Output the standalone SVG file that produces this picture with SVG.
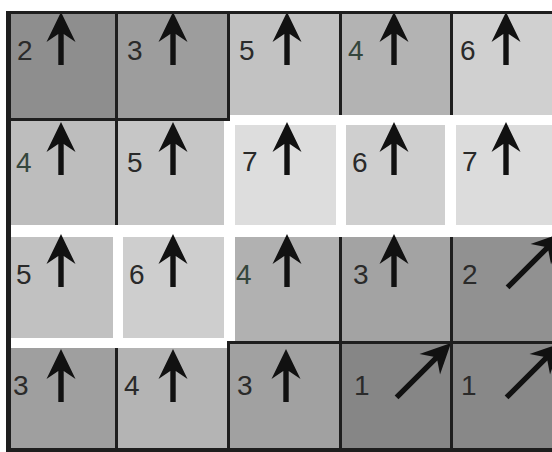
<svg xmlns="http://www.w3.org/2000/svg" xmlns:xlink="http://www.w3.org/1999/xlink" width="552" height="452" viewBox="0 0 552 452">
<style>
.n{font-family:"Liberation Sans",Arial,sans-serif;font-size:28px;fill:#2a2a2a}
.g{fill:#34463c}
.a{fill:#111}
.ln{fill:#1e1e1e}
</style>
<defs>
<path id="up" d="M0,0 L14.5,30 L2.7,22 L2.7,53 L-2.7,53 L-2.7,22 L-14.5,30 Z"/>
<path id="dg" d="M0,0 L14.5,30 L2.7,22 L2.7,77 L-2.7,77 L-2.7,22 L-14.5,30 Z"/>
</defs>
<rect width="552" height="452" fill="#fff"/>
<g id="cells">
<g id="c11"><rect x="11" y="14" width="106" height="105" fill="#8e8e8e"/><text class="n" x="17" y="60">2</text><use href="#up" class="a" transform="translate(61,12)"/></g>
<g id="c12"><rect x="117" y="14" width="112" height="105" fill="#9d9d9d"/><text class="n" x="127" y="60">3</text><use href="#up" class="a" transform="translate(173,12)"/></g>
<g id="c13"><rect x="229" y="14" width="111" height="101" fill="#c2c2c2"/><text class="n" x="239" y="60">5</text><use href="#up" class="a" transform="translate(287,12)"/></g>
<g id="c14"><rect x="340" y="14" width="112" height="101" fill="#b3b3b3"/><text class="n g" x="348" y="60">4</text><use href="#up" class="a" transform="translate(394,12)"/></g>
<g id="c15"><rect x="452" y="14" width="100" height="101" fill="#d0d0d0"/><text class="n" x="460" y="60">6</text><use href="#up" class="a" transform="translate(506,12)"/></g>

<g id="c21"><rect x="11" y="119" width="106" height="106" fill="#bdbdbd"/><text class="n g" x="16" y="172">4</text><use href="#up" class="a" transform="translate(61,122)"/></g>
<g id="c22"><rect x="117" y="119" width="107" height="106" fill="#c6c6c6"/><text class="n" x="127" y="172">5</text><use href="#up" class="a" transform="translate(173,122)"/></g>
<g id="c23"><rect x="235" y="125" width="101" height="100" fill="#dddddd"/><text class="n" x="242" y="171">7</text><use href="#up" class="a" transform="translate(287,122)"/></g>
<g id="c24"><rect x="346" y="125" width="99" height="100" fill="#cfcfcf"/><text class="n" x="352" y="172">6</text><use href="#up" class="a" transform="translate(394,122)"/></g>
<g id="c25"><rect x="456" y="125" width="96" height="100" fill="#dcdcdc"/><text class="n" x="462" y="171">7</text><use href="#up" class="a" transform="translate(506,122)"/></g>

<g id="c31"><rect x="11" y="237" width="102" height="101" fill="#c1c1c1"/><text class="n" x="16" y="284">5</text><use href="#up" class="a" transform="translate(61,234)"/></g>
<g id="c32"><rect x="123" y="237" width="101" height="101" fill="#cecece"/><text class="n" x="129" y="284">6</text><use href="#up" class="a" transform="translate(173,234)"/></g>
<g id="c33"><rect x="235" y="237" width="105" height="105" fill="#b1b1b1"/><text class="n g" x="236" y="284">4</text><use href="#up" class="a" transform="translate(287,234)"/></g>
<g id="c34"><rect x="340" y="237" width="112" height="105" fill="#a3a3a3"/><text class="n" x="353" y="284">3</text><use href="#up" class="a" transform="translate(394,234)"/></g>
<g id="c35"><rect x="452" y="237" width="100" height="105" fill="#919191"/><text class="n" x="462" y="284">2</text><use href="#dg" class="a" transform="translate(562,233) rotate(45)"/></g>

<g id="c41"><rect x="11" y="348" width="106" height="100" fill="#9f9f9f"/><text class="n" x="13" y="395">3</text><use href="#up" class="a" transform="translate(61,349)"/></g>
<g id="c42"><rect x="117" y="348" width="112" height="100" fill="#b4b4b4"/><text class="n" x="124" y="395">4</text><use href="#up" class="a" transform="translate(173,349)"/></g>
<g id="c43"><rect x="229" y="342" width="111" height="106" fill="#a1a1a1"/><text class="n" x="237" y="395">3</text><use href="#up" class="a" transform="translate(286,349)"/></g>
<g id="c44"><rect x="340" y="342" width="112" height="106" fill="#868686"/><text class="n" x="354" y="395" fill="#444">1</text><use href="#dg" class="a" transform="translate(451,343) rotate(45)"/></g>
<g id="c45"><rect x="452" y="342" width="100" height="106" fill="#888888"/><text class="n" x="461" y="395" fill="#444">1</text><use href="#dg" class="a" transform="translate(561,343) rotate(45)"/></g>
</g>
<g id="grid" class="ln">
<rect x="6" y="11" width="546" height="3"/>
<rect x="6" y="11" width="5" height="441"/>
<rect x="6" y="448" width="546" height="4"/>
<rect x="11" y="118" width="218" height="3"/>
<rect x="228" y="341" width="324" height="3"/>
<rect x="115" y="14" width="3" height="211"/>
<rect x="115" y="348" width="3" height="100"/>
<rect x="227" y="14" width="3" height="107"/>
<rect x="227" y="341" width="3" height="107"/>
<rect x="339" y="14" width="3" height="101"/>
<rect x="339" y="237" width="3" height="211"/>
<rect x="450" y="14" width="3" height="101"/>
<rect x="450" y="237" width="3" height="211"/>
</g>
</svg>
